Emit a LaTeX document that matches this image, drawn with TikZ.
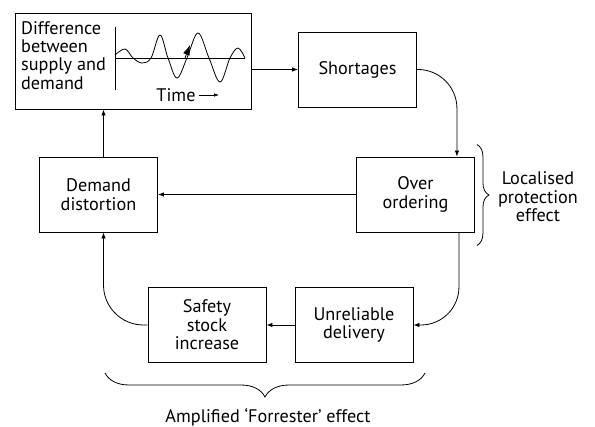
\documentclass[tikz,border=0pt]{standalone}
\usepackage{fontspec}
\setmainfont{PT Sans}
\usetikzlibrary{positioning,arrows.meta,decorations.pathreplacing}

\tikzset{
  blk/.style={draw, line width=0.9pt, minimum width=118pt, minimum height=75pt, align=center, inner sep=2pt},
  lnk/.style={line width=0.8pt, -{Latex[length=6pt,width=4.5pt]}},
  brc/.style={decorate, decoration={brace, amplitude=#1}, line width=0.8pt},
  txt/.style={font=\fontsize{18.2}{18.4}\selectfont},
}

\begin{document}
\begin{tikzpicture}[x=1pt, y=-1pt, every node/.style={txt}, node distance=2cm, on grid]
\useasboundingbox (0,0) rectangle (595,427);

    % top box with the wave
    \node[draw, line width=0.9pt, minimum width=236pt, minimum height=96pt] (diff) at (133,61) {};
    \node[anchor=north west, align=left, inner sep=0pt] (difflbl) at (21,21) {Difference\\between\\supply and\\demand};
    \draw[line width=0.8pt] (115,27) -- (115,90);
    \draw[line width=0.8pt] (115,58) -- (245,58);
    \draw[line width=0.8pt] plot[smooth, tension=0.6] coordinates {(115,55) (125,49) (133,58) (142,63) (151,58) (160,35) (168,58) (177,78) (187,58) (198,33) (209,58) (220,82) (230,58) (238,48) (245,58)};
    \draw[line width=0.8pt, -{Latex[length=10pt,width=7pt]}] (185,58) -- (190,45);
    \node (time) at (176,95) {Time};
    \coordinate (tend) at (219,95);
    \draw[line width=0.6pt, -{Latex[length=5pt,width=3.5pt]}] (time.east) -- (tend);

    % loop boxes
    \node[blk] (short) at (357.5,69.5) {Shortages};
    \node[blk] (ovr) [below right=125pt and 58pt of short] {Over\\ordering};
    \node[blk] (dem) [left=317pt of ovr] {Demand\\distortion};
    \node[blk] (saf) [below right=130.5pt and 108.5pt of dem] {Safety\\stock\\increase};
    \node[blk] (unr) [right=147pt of saf] {Unreliable\\delivery};

    \draw[lnk] (diff.east |- short.west) -- (short.west);
    \draw[lnk, rounded corners=39pt] (short.east) -| ([xshift=-18pt]ovr.north east);
    \draw[lnk, rounded corners=38pt] ([xshift=-16pt]ovr.south east) |- (unr.east);
    \draw[lnk] (ovr.west) -- (dem.east);
    \draw[lnk] (unr.west) -- (saf.east);
    \draw[lnk, rounded corners=40pt] (saf.west) -| ([xshift=5pt]dem.south);
    \draw[lnk] ([xshift=5pt]dem.north) -- ([xshift=5pt]dem.north |- diff.south);

    % braces
    \draw[brc=12pt] ([xshift=2pt,yshift=12pt]ovr.north east) -- ([xshift=2pt,yshift=-13pt]ovr.south east);
    \node[align=center] (loc) at (538,197) {Localised\\protection\\effect};
    \coordinate (bl) at (105,373);
    \coordinate (br) at (425,373);
    \draw[brc=24pt] (br) -- (bl);
    \node (amp) at (268,417) {Amplified ‘Forrester’ effect};

\end{tikzpicture}
\end{document}
